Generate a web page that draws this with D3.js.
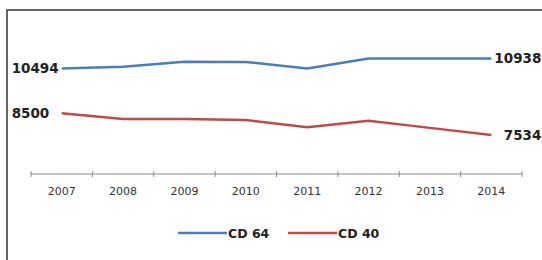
<!DOCTYPE html>
<html><head><meta charset="utf-8">
<script src="https://cdn.jsdelivr.net/npm/d3@7"></script>
<style>body{margin:0;background:#fff}svg{display:block}</style>
</head><body>
<svg id="c" width="542" height="260"></svg>
<script>
const years = ["2007","2008","2009","2010","2011","2012","2013","2014"];
const cd64 = [10494, 10565, 10787, 10780, 10490, 10938, 10938, 10938];
const cd40 = [8500, 8243, 8240, 8199, 7874, 8168, 7850, 7534];
const seriesNames = ["CD 64", "CD 40"];
const colors = ["#4a7ebb", "#be4b48"];

const svg = d3.select("#c");
svg.append("rect").attr("x",7).attr("y",10).attr("width",700).attr("height",400)
  .attr("fill","#fff").attr("stroke","#333").attr("stroke-width",1.5);

const x = d3.scaleBand().domain(years).range([31, 522]);
const y = d3.scaleLinear().domain([5800, 11400]).range([174, 48]);
const axisY = y(5800);

// axis line + boundary ticks
const g = svg.append("g");
g.append("line").attr("x1", x.range()[0]).attr("x2", x.range()[1])
  .attr("y1", axisY).attr("y2", axisY).attr("stroke","#8a8a8a").attr("stroke-width",1);
const bounds = years.map(d => x(d)).concat([x.range()[1]]);
g.selectAll(".tk").data(bounds).join("line").attr("class","tk")
  .attr("x1", d=>d).attr("x2", d=>d).attr("y1", axisY-3).attr("y2", axisY+3)
  .attr("stroke","#8a8a8a").attr("stroke-width",1);

const ax = svg.append("g").attr("transform", `translate(0,${axisY})`)
  .call(d3.axisBottom(x).tickSize(0).tickPadding(13));
ax.select(".domain").remove();
ax.selectAll("text").attr("font-family","DejaVu Sans").attr("font-size","11px").attr("fill","#333");

const line = d3.line().x((d,i)=>x(years[i]) + x.bandwidth()/2).y(d=>y(d));
[cd64, cd40].forEach((s, k) => {
  svg.append("path").datum(s).attr("d", line).attr("fill","none")
    .attr("stroke", colors[k]).attr("stroke-width", 2.5).attr("stroke-linejoin","round");
  // end labels
  svg.append("text").attr("x", x(years[0]) + x.bandwidth()/2 - 50).attr("y", y(s[0]))
    .attr("dy","0.36em").attr("text-anchor","start")
    .attr("font-family","DejaVu Sans").attr("font-weight","bold").attr("font-size","13.5px")
    .attr("fill","#222").text(s[0]);
  const last = s[s.length-1];
  svg.append("text").attr("x", x(years[years.length-1]) + x.bandwidth()/2 + 50).attr("y", y(last))
    .attr("dy","0.36em").attr("text-anchor","end")
    .attr("font-family","DejaVu Sans").attr("font-weight","bold").attr("font-size","13.5px")
    .attr("fill","#222").text(last);
});

// legend
const legX = [178, 288];
seriesNames.forEach((n, k) => {
  svg.append("line").attr("x1", legX[k]).attr("x2", legX[k]+49).attr("y1", 233).attr("y2", 233)
    .attr("stroke", colors[k]).attr("stroke-width", 2.5);
  svg.append("text").attr("x", legX[k]+50).attr("y", 233).attr("dy","0.36em")
    .attr("font-family","DejaVu Sans").attr("font-size","12.5px").attr("font-weight","bold")
    .attr("fill","#222").text(n);
});
</script>
</body></html>
